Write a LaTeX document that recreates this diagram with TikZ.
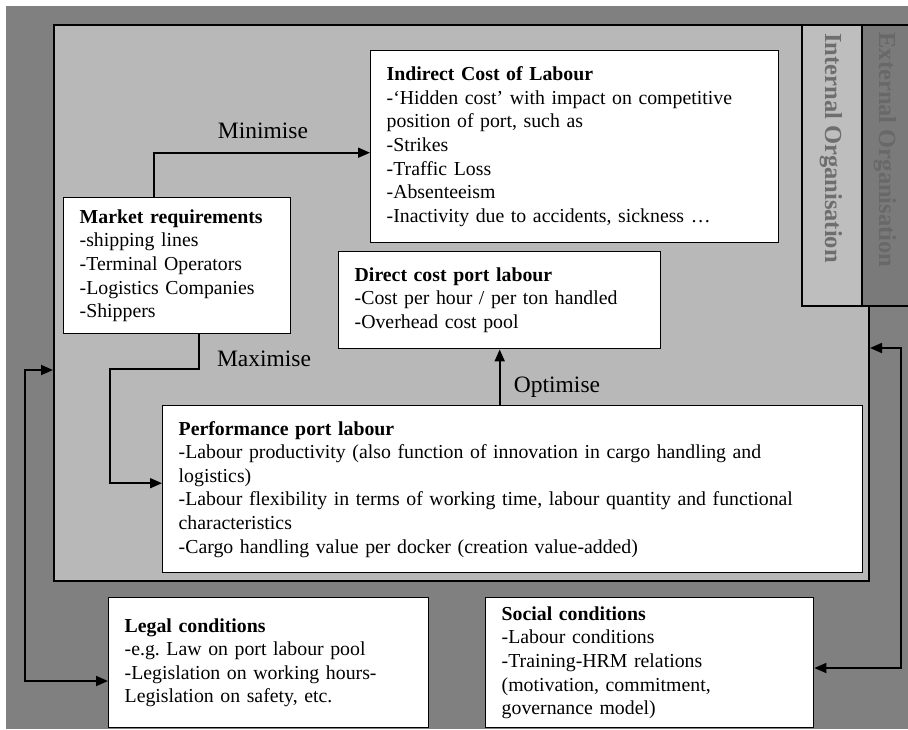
\documentclass[tikz,border=0pt]{standalone}
\usepackage{fontspec}
\setmainfont{Liberation Serif}
\usetikzlibrary{arrows.meta,calc}
\definecolor{outergrey}{HTML}{808080}
\definecolor{innergrey}{HTML}{B8B8B8}
\definecolor{intcol}{HTML}{BEBEBE}
\definecolor{extcol}{HTML}{7A7A7A}
\definecolor{inttext}{HTML}{6E6E6E}
\definecolor{exttext}{HTML}{686868}
\frenchspacing
\begin{document}
\begin{tikzpicture}[x=1pt,y=-1pt,
  box/.style={draw=black, line width=1.4pt, fill=white, anchor=north west,
    align=left, inner xsep=16pt, inner ysep=0pt,
    font=\fontsize{19.8}{23.6}\selectfont},
  arr/.style={line width=1.8pt, -{Triangle[length=12pt,width=10pt]}},
  darr/.style={line width=1.8pt, {Triangle[length=12pt,width=10pt]}-{Triangle[length=12pt,width=10pt]}},
  lbl/.style={font=\fontsize{23.5}{27}\selectfont, inner sep=0pt},
  coltext/.style={rotate=-90, font=\bfseries\fontsize{24.5}{28}\selectfont, inner sep=0pt}]
\useasboundingbox (0,0) rectangle (908,729);
\fill[white] (0,0) rectangle (908,729);
\fill[outergrey] (6,6) rectangle (908,729);
% inner panel
\node[draw=black, line width=2pt, fill=innergrey, anchor=north west,
  minimum width=815pt, minimum height=556pt, inner sep=0pt] (inner) at (53,24) {};
% organisation columns
\node[draw=black, line width=1.5pt, fill=intcol, anchor=north west,
  minimum width=60pt, minimum height=281pt, inner sep=0pt] (intc) at (801,24) {};
\node[draw=black, line width=1.5pt, fill=extcol, anchor=north west,
  minimum width=47pt, minimum height=281pt, inner sep=0pt] (extc) at (861,24) {};
\node[coltext, text=inttext] (intt) at (831,148) {Internal Organisation};
\node[coltext, text=exttext] (extt) at (885,150) {External Organisation};
% boxes
\node[box, text width=376pt, minimum height=192pt] (ind) at (370,50)
  {\textbf{Indirect Cost of Labour}\\
   -‘Hidden cost’ with impact on competitive\\
   position of port, such as\\
   -Strikes\\
   -Traffic Loss\\
   -Absenteeism\\
   -Inactivity due to accidents, sickness …};
\node[box, text width=195pt, minimum height=136pt] (mkt) at (63,197)
  {\textbf{Market requirements}\\
   -shipping lines\\
   -Terminal Operators\\
   -Logistics Companies\\
   -Shippers};
\node[box, text width=290pt, minimum height=97pt] (dir) at (338,251)
  {\textbf{Direct cost port labour}\\
   -Cost per hour / per ton handled\\
   -Overhead cost pool};
\node[box, text width=668pt, minimum height=167pt] (perf) at (162,405)
  {\textbf{Performance port labour}\\
   -Labour productivity (also function of innovation in cargo handling and\\
   logistics)\\
   -Labour flexibility in terms of working time, labour quantity and functional\\
   characteristics\\
   -Cargo handling value per docker (creation value-added)};
\node[box, text width=288pt, minimum height=130pt] (legal) at (108,597)
  {\textbf{Legal conditions}\\
   -e.g. Law on port labour pool\\
   -Legislation on working hours-\\
   Legislation on safety, etc.};
\node[box, text width=296pt, minimum height=130pt] (social) at (485,597)
  {\textbf{Social conditions}\\
   -Labour conditions\\
   -Training-HRM relations\\
   (motivation, commitment,\\
   governance model)};
% labels
\node[lbl] (lmin) at (263,131) {Minimise};
\node[lbl] (lmax) at (264,359) {Maximise};
\node[lbl] (lopt) at (557,387) {Optimise};
% coordinates for bends
\coordinate (mx1) at (110,369);
\coordinate (L1) at (25,370);
\coordinate (L2) at (25,681);
\coordinate (R1) at (901,348);
\coordinate (R2) at (901,668);
% connectors
\draw[arr] ([xshift=91pt]mkt.north west) |- ([yshift=-6pt]ind.west);
\draw[arr] ([xshift=136pt]mkt.south west) |- (mx1) |- ([yshift=6pt]perf.west);
\draw[arr] (dir.south |- perf.north) -- (dir.south);
\draw[darr] (L1 -| inner.west) -- (L1) -- (L2) -- (L2 -| legal.west);
\draw[darr] (R1 -| inner.east) -- (R1) -- (R2) -- (R2 -| social.east);
\end{tikzpicture}
\end{document}
